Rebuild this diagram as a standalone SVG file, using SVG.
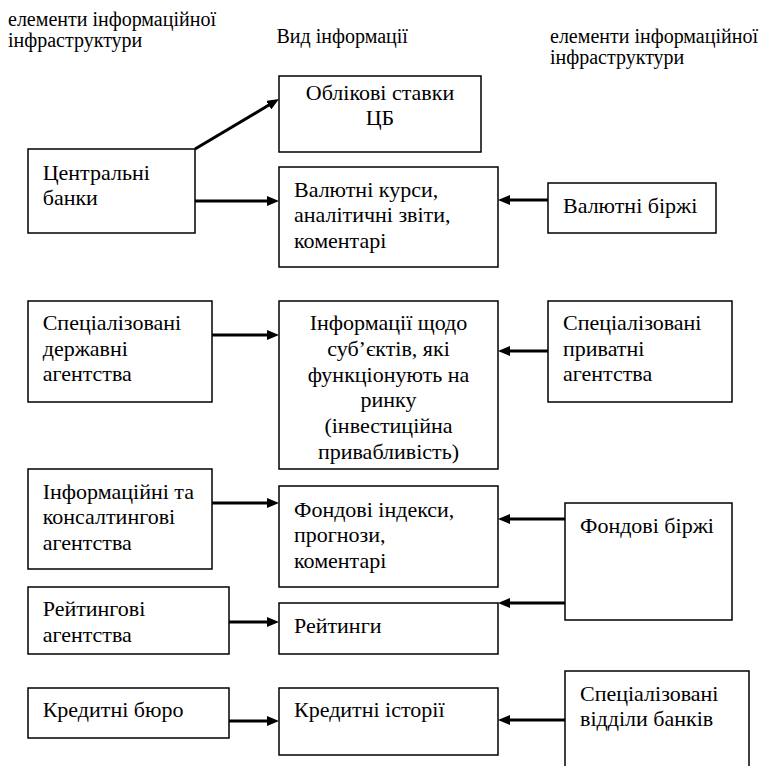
<svg xmlns="http://www.w3.org/2000/svg" width="773" height="766" viewBox="0 0 773 766">
<defs>
<style>
.box{fill:#fff;stroke:#000;stroke-width:1.5}
.t{font-family:"Liberation Serif","Times New Roman",serif;font-size:22px;fill:#000}
.h{font-family:"Liberation Serif","Times New Roman",serif;font-size:20px;fill:#000}
.m{text-anchor:middle}
.c{stroke:#000;stroke-width:3;fill:none}
</style>
<marker id="ah" markerUnits="userSpaceOnUse" markerWidth="12" markerHeight="10" refX="6" refY="5" orient="auto" viewBox="0 0 12 10">
<path d="M0,0 L12,5 L0,10 z" fill="#000"/>
</marker>
</defs>
<rect width="773" height="766" fill="#fff"/>

<g id="headers">
<text class="h" x="8" y="26">елементи інформаційної</text>
<text class="h" x="8" y="47">інфраструктури</text>
<text class="h" x="276.5" y="42.5">Вид інформації</text>
<text class="h" x="550" y="42.5">елементи інформаційної</text>
<text class="h" x="550" y="63.5">інфраструктури</text>
</g>

<g id="connectors">
<path class="c" d="M195,149 L273.85,102.07" marker-end="url(#ah)"/>
<path class="c" d="M195,201 L273,201" marker-end="url(#ah)"/>
<path class="c" d="M548,200 L504,200" marker-end="url(#ah)"/>
<path class="c" d="M212,335 L273,335" marker-end="url(#ah)"/>
<path class="c" d="M548,351 L504,351" marker-end="url(#ah)"/>
<path class="c" d="M212,503 L273,503" marker-end="url(#ah)"/>
<path class="c" d="M565,519 L504,519" marker-end="url(#ah)"/>
<path class="c" d="M565,603 L504,603" marker-end="url(#ah)"/>
<path class="c" d="M229,622 L273,622" marker-end="url(#ah)"/>
<path class="c" d="M229,721 L273,721" marker-end="url(#ah)"/>
<path class="c" d="M565,720 L504,720" marker-end="url(#ah)"/>
</g>

<g id="n-oblikovi">
<rect class="box" x="279" y="76" width="202" height="76"/>
<text class="t m" x="380" y="99.5">Облікові ставки</text>
<text class="t m" x="380" y="125">ЦБ</text>
</g>

<g id="n-central">
<rect class="box" x="28" y="149" width="167" height="84"/>
<text class="t" x="42.7" y="179.5">Центральні</text>
<text class="t" x="42.7" y="205">банки</text>
</g>

<g id="n-valkursy">
<rect class="box" x="279" y="167" width="219" height="100"/>
<text class="t" x="294" y="196.5">Валютні курси,</text>
<text class="t" x="294" y="222">аналітичні звіти,</text>
<text class="t" x="294" y="247.5">коментарі</text>
</g>

<g id="n-valbirzhi">
<rect class="box" x="548" y="183" width="168" height="50"/>
<text class="t" x="563" y="212.5">Валютні біржі</text>
</g>

<g id="n-derzh">
<rect class="box" x="28" y="301" width="184" height="101"/>
<text class="t" x="42.7" y="330">Спеціалізовані</text>
<text class="t" x="42.7" y="355.5">державні</text>
<text class="t" x="42.7" y="381">агентства</text>
</g>

<g id="n-info">
<rect class="box" x="279" y="301" width="219" height="168"/>
<text class="t m" x="388.5" y="330">Інформації щодо</text>
<text class="t m" x="388.5" y="355.8">суб’єктів, які</text>
<text class="t m" x="388.5" y="381.6">функціонують на</text>
<text class="t m" x="388.5" y="407.4">ринку</text>
<text class="t m" x="388.5" y="433.2">(інвестиційна</text>
<text class="t m" x="388.5" y="459">привабливість)</text>
</g>

<g id="n-pryvat">
<rect class="box" x="548" y="301" width="184" height="101"/>
<text class="t" x="563" y="330">Спеціалізовані</text>
<text class="t" x="563" y="355.5">приватні</text>
<text class="t" x="563" y="381">агентства</text>
</g>

<g id="n-konsalt">
<rect class="box" x="28" y="469" width="184" height="100"/>
<text class="t" x="42.7" y="498.5">Інформаційні та</text>
<text class="t" x="42.7" y="524.3">консалтингові</text>
<text class="t" x="42.7" y="550">агентства</text>
</g>

<g id="n-indeksy">
<rect class="box" x="279" y="486" width="219" height="101"/>
<text class="t" x="294" y="516.5">Фондові індекси,</text>
<text class="t" x="294" y="542">прогнози,</text>
<text class="t" x="294" y="567.5">коментарі</text>
</g>

<g id="n-fondbirzhi">
<rect class="box" x="565" y="503" width="167" height="117"/>
<text class="t" x="580" y="532.5">Фондові біржі</text>
</g>

<g id="n-reitagent">
<rect class="box" x="28" y="587" width="201" height="67"/>
<text class="t" x="42.7" y="615.7">Рейтингові</text>
<text class="t" x="42.7" y="641.5">агентства</text>
</g>

<g id="n-reitynhy">
<rect class="box" x="279" y="603" width="219" height="51"/>
<text class="t" x="294" y="633">Рейтинги</text>
</g>

<g id="n-buro">
<rect class="box" x="28" y="688" width="201" height="50"/>
<text class="t" x="42.7" y="717">Кредитні бюро</text>
</g>

<g id="n-istorii">
<rect class="box" x="279" y="688" width="219" height="67"/>
<text class="t" x="294" y="717">Кредитні історії</text>
</g>

<g id="n-viddily">
<rect class="box" x="565" y="671" width="184" height="100"/>
<text class="t" x="580" y="700.5">Спеціалізовані</text>
<text class="t" x="580" y="726">відділи банків</text>
</g>
</svg>
